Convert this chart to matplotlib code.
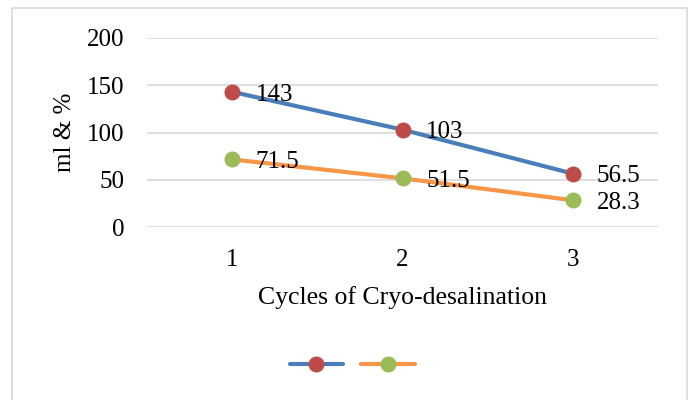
import matplotlib
matplotlib.use("Agg")
import matplotlib.pyplot as plt
from matplotlib.patches import Rectangle
from matplotlib.lines import Line2D

cycles = ["1", "2", "3"]
series_ml = [143, 103, 56.5]
series_pct = [71.5, 51.5, 28.3]
y_ticks = [0, 50, 100, 150, 200]

plt.rcParams['font.family'] = ['Liberation Serif', 'DejaVu Serif']
FS = 18

fig = plt.figure(figsize=(6.93, 4.0), dpi=100)
fig.patches.append(Rectangle((12/693, -0.05), (687-12)/693, (400-8)/400 + 0.05,
                             transform=fig.transFigure, fill=False,
                             edgecolor='#D9D9D9', linewidth=1.2))
ax = fig.add_axes([147/693, 1-227/400, (658-147)/693, (227-38)/400])

x = list(range(1, len(cycles)+1))
blue = '#4A7EBB'; red = '#BE4B48'; orange = '#F79646'; green = '#9BBB59'
ax.plot(x, series_ml, color=blue, lw=3, marker='o', ms=10.5,
        markerfacecolor=red, markeredgecolor=red, solid_capstyle='round', zorder=3)
ax.plot(x, series_pct, color=orange, lw=3, marker='o', ms=10.5,
        markerfacecolor=green, markeredgecolor=green, solid_capstyle='round', zorder=3)

def fmt(v):
    return str(int(v)) if float(v).is_integer() else str(v)

for xi, v in zip(x, series_ml):
    ax.annotate(fmt(v), (xi, v), xytext=(17, -2), textcoords='offset points',
                va='center', ha='left', fontsize=FS)
for xi, v in zip(x, series_pct):
    ax.annotate(fmt(v), (xi, v), xytext=(17, -2), textcoords='offset points',
                va='center', ha='left', fontsize=FS)

ax.set_xlim(0.5, 3.5)
ax.set_ylim(0, 200)
ax.set_yticks(y_ticks)
ax.set_xticks(x)
ax.set_xticklabels(cycles)
ax.tick_params(axis='both', length=0, labelsize=FS)
ax.tick_params(axis='y', pad=16)
ax.tick_params(axis='x', pad=16)
ax.grid(axis='y', color='#D9D9D9', lw=1.2)
ax.set_axisbelow(True)
for s in ax.spines.values():
    s.set_visible(False)

ax.set_xlabel("Cycles of Cryo-desalination", fontsize=18.5, labelpad=11)
ax.set_ylabel("ml & %", fontsize=FS, labelpad=8)

h1 = Line2D([], [], color=blue, lw=3, marker='o', ms=10.5, markerfacecolor=red,
            markeredgecolor=red, solid_capstyle='round')
h2 = Line2D([], [], color=orange, lw=3, marker='o', ms=10.5, markerfacecolor=green,
            markeredgecolor=green, solid_capstyle='round')
fig.legend([h1, h2], ['', ''], loc='center', bbox_to_anchor=(352/693, 1-366/400),
           ncol=2, frameon=False, handlelength=3.1, handletextpad=0,
           columnspacing=1.0, fontsize=12.5)

fig.savefig("out.png", dpi=100)
